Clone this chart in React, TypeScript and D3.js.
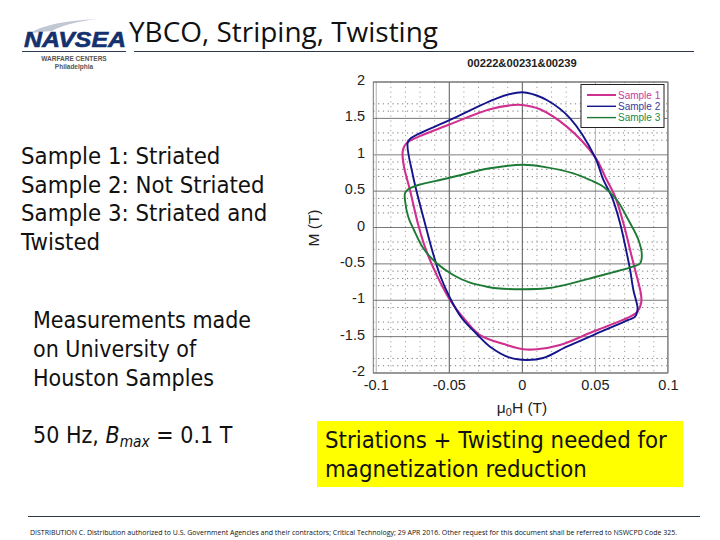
import React from "react";
import * as d3 from "d3";

const W = 720;
const H = 540;

// [mu0H (T), M (T)], going round each loop
const sample1: [number, number][] = [
  [-0.0819, 1.042], [-0.0803, 1.134], [-0.0769, 1.193], [-0.0495, 1.419], [-0.0221, 1.625], [-0.0062, 1.684],
  [0, 1.684], [0.0121, 1.625], [0.0304, 1.386], [0.0496, 0.973], [0.0578, 0.653], [0.0635, 0.423],
  [0.0692, 0.058], [0.0749, -0.401], [0.0772, -0.584], [0.0813, -0.928], [0.0813, -1.042], [0.0788, -1.157],
  [0.0738, -1.226], [0.0486, -1.43], [0.0258, -1.615], [0.0099, -1.674], [0.0007, -1.674], [-0.0107, -1.615],
  [-0.029, -1.478], [-0.0381, -1.295], [-0.0495, -0.997], [-0.0586, -0.653], [-0.0655, -0.333], [-0.0712, 0.034],
  [-0.0769, 0.515], [-0.081, 0.836],
];
const sample2: [number, number][] = [
  [-0.0785, 1.166], [-0.0764, 1.226], [-0.0495, 1.478], [-0.0175, 1.776], [-0.0038, 1.853], [0.003, 1.853],
  [0.0167, 1.753], [0.0327, 1.501], [0.0496, 0.973], [0.0555, 0.653], [0.0612, 0.423], [0.0669, 0.058],
  [0.0715, -0.355], [0.0738, -0.584], [0.076, -0.859], [0.0788, -1.089], [0.0786, -1.162], [0.0772, -1.226],
  [0.0726, -1.271], [0.0486, -1.478], [0.0304, -1.638], [0.0142, -1.794], [0.003, -1.821], [-0.0084, -1.79],
  [-0.0221, -1.638], [-0.0312, -1.464], [-0.0415, -1.244], [-0.0495, -0.969], [-0.0564, -0.653], [-0.0621, -0.286],
  [-0.0658, -0.007], [-0.0747, 0.698],
];
const sample3: [number, number][] = [
  [-0.0803, 0.47], [-0.0781, 0.525], [-0.0712, 0.584], [-0.0541, 0.663], [-0.0449, 0.708], [-0.0221, 0.814],
  [0.0007, 0.863], [0.0167, 0.827], [0.0349, 0.745], [0.0464, 0.653], [0.0555, 0.561], [0.0647, 0.378],
  [0.0726, 0.103], [0.0795, -0.172], [0.0818, -0.378], [0.0806, -0.492], [0.0772, -0.529], [0.0486, -0.687],
  [0.0258, -0.804], [0.0167, -0.836], [0.0007, -0.849], [-0.0175, -0.836], [-0.0221, -0.822], [-0.0358, -0.759],
  [-0.0473, -0.653], [-0.0586, -0.492], [-0.0678, -0.286], [-0.0742, -0.034], [-0.0781, 0.148], [-0.0803, 0.378],
];

const xTicks = [-0.1, -0.05, 0, 0.05, 0.1];
const yTicks = [-2, -1.5, -1, -0.5, 0, 0.5, 1, 1.5, 2];
const xMinor = [-0.09, -0.08, -0.07, -0.06, -0.04, -0.03, -0.02, -0.01, 0.01, 0.02, 0.03, 0.04, 0.06, 0.07, 0.08, 0.09];
// only these dotted rows survive in the picture
const yMinor = [1.7, 1.6, 1.3, 1.2, 0.9, 0.8, 0.7, 0.4, 0.3, 0.2, -0.2, -0.3, -0.6, -0.7, -0.8, -1.1, -1.3, -1.4, -1.8, -1.9];
const sideLines = ["Sample 1: Striated", "Sample 2: Not Striated", "Sample 3: Striated and", "Twisted"];
const houstonLines = ["Measurements made", "on University of", "Houston Samples"];
const yellowLines = ["Striations + Twisting needed for", "magnetization reduction"];
const legendNames = ["Sample 1", "Sample 2", "Sample 3"];
const legendColors = ["#cf2f8f", "#14148c", "#1d7a35"];
const legendText = ["#c93aa0", "#3a3aa0", "#1d8a45"];
const footer =
  "DISTRIBUTION C. Distribution authorized to U.S. Government Agencies and their contractors; Critical Technology; 29 APR 2016. Other request for this document shall be referred to NSWCPD Code 325.";

const bodyFont = "'DejaVu Sans', sans-serif";
const titleFont = "'Open Sans', sans-serif";
const plotFont = "'Liberation Sans', Arial, sans-serif";

export default function App() {
  const x = d3.scaleLinear().domain([-0.102, 0.0995]).range([373.3, 667.7]);
  const y = d3.scaleLinear().domain([-2, 2]).range([373, 82]);
  const loop = d3
    .line<[number, number]>()
    .x(d => x(d[0]))
    .y(d => y(d[1]))
    .curve(d3.curveCatmullRomClosed.alpha(0.5));
  const series = [sample1, sample2, sample3];

  return (
    <svg
      width={W}
      height={H}
      viewBox={`0 0 ${W} ${H}`}
      style={{ position: "absolute", left: 0, top: 0, background: "#fff" }}
    >
      {/* header */}
      <path d="M30 33 Q50 21 97 19 Q66 23 52 31 Z" fill="#c2c7d4" />
      <text x={24} y={47} fontFamily={plotFont} fontWeight="bold" fontStyle="italic" fontSize={22} fill="#14306e" stroke="#14306e" strokeWidth={0.6} textLength={102} lengthAdjust="spacingAndGlyphs">NAVSEA</text>
      <line x1={22} x2={126} y1={51.5} y2={51.5} stroke="#2b3a55" />
      <text x={74} y={61} textAnchor="middle" fontFamily={plotFont} fontWeight="bold" fontSize={6.5} fill="#555">WARFARE CENTERS</text>
      <text x={74} y={69} textAnchor="middle" fontFamily={plotFont} fontWeight="bold" fontSize={6.5} fill="#555">Philadelphia</text>
      <text x={129} y={42} fontFamily={titleFont} fontSize={27} fill="#111" textLength={309} lengthAdjust="spacingAndGlyphs">YBCO, Striping, Twisting</text>
      <line x1={134} x2={694} y1={51.5} y2={51.5} stroke="#2b3a48" />

      {/* left text */}
      {sideLines.map((t, i) => (
        <text key={t} transform={`translate(21,${164 + i * 28.7}) scale(0.95,1)`} fontFamily={bodyFont} fontSize={22.5} fill="#111">{t}</text>
      ))}
      {houstonLines.map((t, i) => (
        <text key={t} transform={`translate(33,${328 + i * 29}) scale(0.92,1)`} fontFamily={bodyFont} fontSize={22.5} fill="#111">{t}</text>
      ))}
      <text transform="translate(33,443) scale(0.92,1)" fontFamily={bodyFont} fontSize={22.5} fill="#111">
        50 Hz, <tspan fontStyle="italic">B</tspan>
        <tspan fontStyle="italic" fontSize={15} dy={4}>max</tspan>
        <tspan dy={-4}> = 0.1 T</tspan>
      </text>

      {/* plot */}
      <text x={522} y={67} textAnchor="middle" fontFamily={plotFont} fontWeight="bold" fontSize={11.2} fill="#222">00222&amp;00231&amp;00239</text>
      {xMinor.map(v => (
        <line key={v} x1={x(v)} x2={x(v)} y1={y(2)} y2={y(-2)} stroke="#999" strokeWidth={0.9} strokeDasharray="1.2 3.6" />
      ))}
      {yMinor.map(v => (
        <line key={v} x1={x(-0.102)} x2={x(0.0995)} y1={y(v)} y2={y(v)} stroke="#666" strokeWidth={0.9} strokeDasharray="1.2 3.6" />
      ))}
      {xTicks.map(v => (
        <line key={v} x1={x(v)} x2={x(v)} y1={y(2)} y2={y(-2)} stroke={v === -0.05 || v === 0 ? "#444" : "#aaa"} strokeWidth={0.9} />
      ))}
      {yTicks.map(v => (
        <line key={v} x1={x(-0.102)} x2={x(0.0995)} y1={y(v)} y2={y(v)} stroke={v === 1 ? "#aaa" : "#555"} strokeWidth={v === 1 ? 1.6 : 0.8} />
      ))}
      <rect x={x(-0.102)} y={y(2)} width={x(0.0995) - x(-0.102)} height={y(-2) - y(2)} fill="none" stroke="#777" />

      {series.map((s, i) => (
        <path key={i} d={loop(s) ?? ""} fill="none" stroke={legendColors[i]} strokeWidth={i === 0 ? 2.1 : 1.9} />
      ))}

      {xTicks.map(v => (
        <text key={v} x={x(v)} y={390} textAnchor="middle" fontFamily={plotFont} fontSize={14.5} fill="#222">{v}</text>
      ))}
      {yTicks.map(v => (
        <text key={v} x={365} y={y(v) + 3} textAnchor="end" fontFamily={plotFont} fontSize={14.5} fill="#222">{v}</text>
      ))}
      <text transform="translate(319,228) rotate(-90)" textAnchor="middle" fontFamily={plotFont} fontSize={15.5} fill="#222">M (T)</text>
      <text x={522} y={413} textAnchor="middle" fontFamily={plotFont} fontSize={15.5} fill="#222">
        <tspan>μ</tspan><tspan fontSize={11} dy={3}>0</tspan><tspan dy={-3}>H (T)</tspan>
      </text>

      {/* legend */}
      <rect x={581} y={84.5} width={83} height={43} fill="#fff" stroke="#222" />
      {legendNames.map((n, i) => (
        <g key={n}>
          <line x1={587} x2={616} y1={95 + i * 11.3} y2={95 + i * 11.3} stroke={legendColors[i]} strokeWidth={i === 0 ? 2 : 1.4} />
          <text x={618} y={98.5 + i * 11.3} fontFamily={plotFont} fontSize={10} fill={legendText[i]}>{n}</text>
        </g>
      ))}

      {/* yellow box */}
      <rect x={317} y={421} width={366} height={66} fill="#ffff00" />
      {yellowLines.map((t, i) => (
        <text key={t} transform={`translate(325,${448 + i * 29}) scale(0.95,1)`} fontFamily={bodyFont} fontSize={22.5} fill="#111">{t}</text>
      ))}

      {/* footer */}
      <line x1={28} x2={700} y1={516.5} y2={516.5} stroke="#2b3a48" />
      <text x={30} y={535} fontFamily={titleFont} fontSize={7} fill="#111" textLength={647} lengthAdjust="spacingAndGlyphs">{footer}</text>
    </svg>
  );
}
